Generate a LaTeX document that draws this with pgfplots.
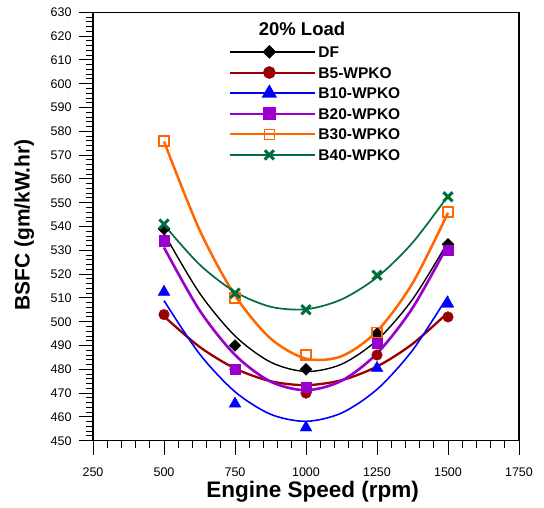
\documentclass[border=0pt]{standalone}
\usepackage{fontspec}
\setmainfont{Liberation Sans}
\usepackage{pgfplots}
\pgfplotsset{compat=1.18}

\definecolor{dfcol}{RGB}{0,0,0}
\definecolor{bfive}{RGB}{153,0,0}
\definecolor{bten}{RGB}{0,0,255}
\definecolor{btwenty}{RGB}{153,0,204}
\definecolor{bthirty}{RGB}{255,102,0}
\definecolor{bforty}{RGB}{0,110,60}

\begin{document}
\begin{tikzpicture}
\path[use as bounding box] (-93pt,-66.3pt) rectangle (451pt,440.7pt);
\begin{axis}[
  scale only axis,
  width=426pt, height=428.4pt,
  xmin=250, xmax=1750, ymin=450, ymax=630,
  xtick={250,500,...,1750},
  ytick={450,460,...,630},
  minor x tick num=4, minor y tick num=4,
  tick align=outside,
  xtick pos=bottom, ytick pos=left,
  major tick length=14pt, minor tick length=7pt,
  every tick/.style={black, line width=0.9pt},
  axis line style={line width=1.2pt},
  tick label style={font=\fontsize{12.5}{15}\selectfont},
  xticklabel style={yshift=-9.5pt},
  yticklabel style={xshift=-4pt},
  /pgf/number format/assume math mode=true,
  /pgf/number format/1000 sep={},
  xlabel={Engine Speed (rpm)},
  ylabel={BSFC (gm/kW.hr)},
  xlabel style={font=\fontsize{22.5}{25}\selectfont\bfseries,
    at={(axis description cs:0.5153,-0.1331)}, anchor=base},
  ylabel style={font=\fontsize{21}{24}\selectfont\bfseries,
    at={(axis description cs:-0.149,0.5035)}, anchor=base},
  legend style={at={(axis description cs:0.3122,0.9303)}, anchor=north west,
    draw=none, fill=none,
    font=\fontsize{15.5}{17}\selectfont\bfseries,
    nodes={text height=11.1pt, text depth=0pt, inner sep=2pt},
    row sep=5.5pt},
  legend cell align=left,
  legend image code/.code={
    \path (0pt,0pt) -- (85pt,0pt);
    \draw[mark repeat=2,mark phase=2,#1]
      plot coordinates {(0pt,0pt) (39pt,0pt) (78pt,0pt)};},
]

% quadratic trend curves
\addplot[dfcol, line width=1.4pt, smooth, forget plot] coordinates {
 (500,537.14) (625,512.07) (750,494.03) (875,483.03) (1000,479.06)
 (1125,482.13) (1250,492.23) (1375,509.37) (1500,533.54)};
\addplot[bfive, line width=2.3pt, smooth, forget plot] coordinates {
 (500,502.26) (625,489.46) (750,480.37) (875,475.00) (1000,473.34)
 (1125,475.40) (1250,481.17) (1375,490.66) (1500,503.86)};
\addplot[bten, line width=1.6pt, smooth, forget plot] coordinates {
 (500,508.86) (625,486.48) (750,470.57) (875,461.12) (1000,458.14)
 (1125,461.62) (1250,471.57) (1375,487.98) (1500,510.86)};
\addplot[btwenty, line width=2.6pt, smooth, forget plot] coordinates {
 (500,531.18) (625,504.84) (750,486.06) (875,474.86) (1000,471.22)
 (1125,475.16) (1250,486.66) (1375,505.74) (1500,532.38)};
\addplot[bthirty, line width=2.5pt, smooth, forget plot] coordinates {
 (500,575.74) (625,538.62) (750,511.03) (875,492.98) (1000,484.46)
 (1125,485.48) (1250,496.03) (1375,516.12) (1500,545.74)};
\addplot[bforty, line width=1.7pt, smooth, forget plot] coordinates {
 (500,540.68) (625,524.03) (750,512.56) (875,506.30) (1000,505.22)
 (1125,509.35) (1250,518.66) (1375,533.18) (1500,552.88)};

% measured points
\addplot[only marks, mark=square*, mark size=4.2pt,
  mark options={rotate=45, draw=dfcol, fill=dfcol}, forget plot] coordinates {
 (500,539) (750,490) (1000,480) (1250,495) (1500,532.5)};
\addplot[only marks, mark=*, mark size=5.3pt,
  mark options={draw=bfive, fill=bfive}, forget plot] coordinates {
 (500,503) (750,480) (1000,470) (1250,486) (1500,502)};
\addplot[only marks, mark=triangle*, mark size=6.8pt,
  mark options={draw=bten, fill=bten}, forget plot] coordinates {
 (500,512.5) (750,465.5) (1000,455.5) (1250,480.5) (1500,507.5)};
\addplot[only marks, mark=square*, mark size=5.2pt,
  mark options={draw=btwenty, fill=btwenty}, forget plot] coordinates {
 (500,534) (750,480) (1000,472.5) (1250,491) (1500,530)};
\addplot[only marks, mark=square, mark size=5pt,
  mark options={draw=bthirty, line width=1.5pt}, forget plot] coordinates {
 (500,576) (750,510) (1000,486) (1250,495.5) (1500,546)};
\addplot[only marks, mark=x, mark size=6.5pt,
  mark options={draw=bforty, line width=3pt}, forget plot] coordinates {
 (500,541) (750,512) (1000,505) (1250,519.5) (1500,552.5)};

% legend
\addlegendimage{dfcol, line width=1.3pt, mark=square*, mark size=4.2pt,
  mark options={rotate=45, fill=dfcol}}
\addlegendentry{DF}
\addlegendimage{bfive, line width=2pt, mark=*, mark size=5.3pt,
  mark options={fill=bfive}}
\addlegendentry{B5-WPKO}
\addlegendimage{bten, line width=2pt, mark=triangle*, mark size=6.8pt,
  mark options={fill=bten}}
\addlegendentry{B10-WPKO}
\addlegendimage{btwenty, line width=2.3pt, mark=square*, mark size=5.2pt,
  mark options={fill=btwenty}}
\addlegendentry{B20-WPKO}
\addlegendimage{bthirty, line width=2.3pt, mark=square, mark size=5pt,
  mark options={line width=1.5pt}}
\addlegendentry{B30-WPKO}
\addlegendimage{bforty, line width=2pt, mark=x, mark size=6.5pt,
  mark options={line width=3pt}}
\addlegendentry{B40-WPKO}

\node[font=\fontsize{18.5}{21}\selectfont\bfseries, anchor=center]
  at (axis description cs:0.4906,0.961) {20\% Load};
\end{axis}
\end{tikzpicture}
\end{document}
